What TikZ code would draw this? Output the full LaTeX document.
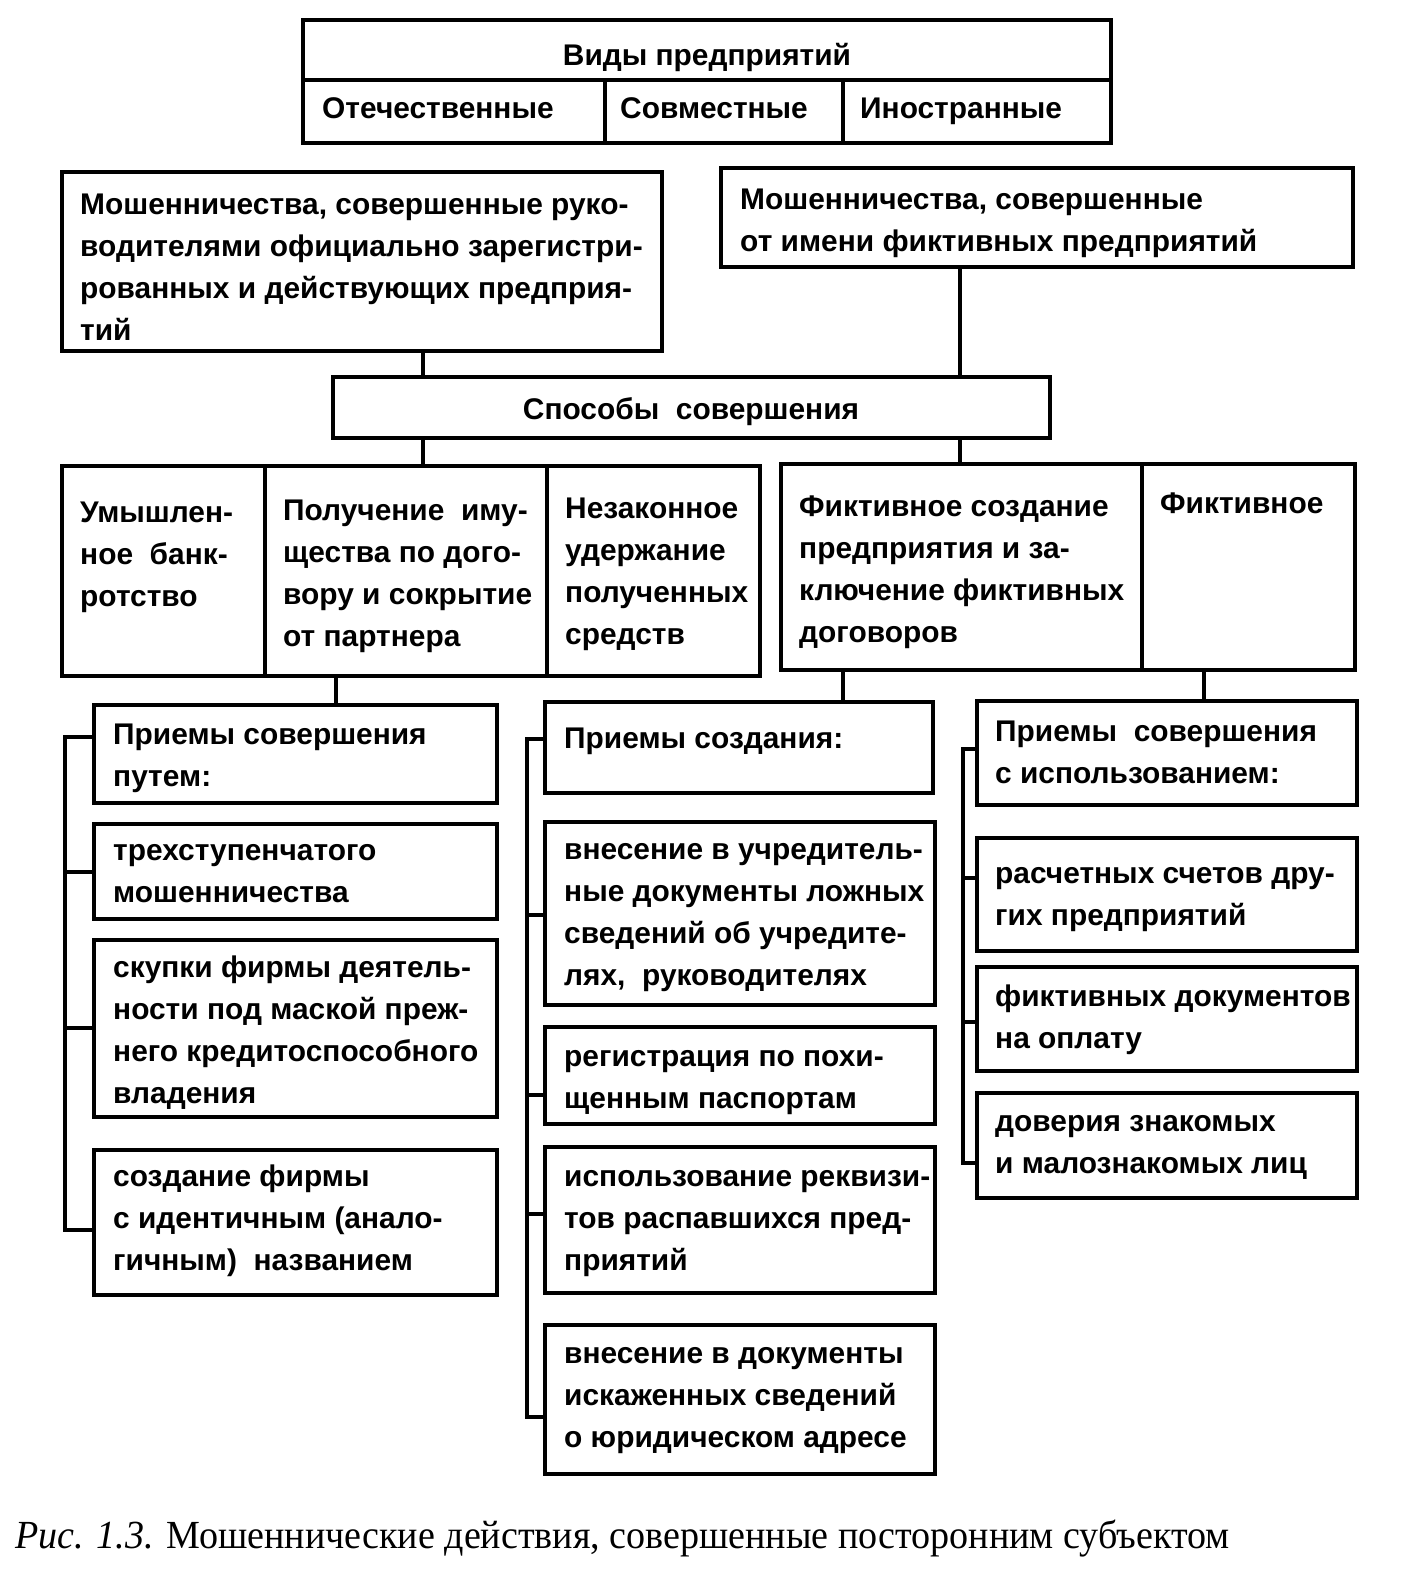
\documentclass[tikz,border=0pt]{standalone}
\usepackage{fontspec}
\setmainfont{Liberation Sans}
\newfontfamily\capfont{Liberation Serif}
\usetikzlibrary{fit}
\newcommand\mybox[5]{\path (#2,#3) coordinate (#1-nw) (#4,#5) coordinate (#1-se);
  \node[box, fit=(#1-nw)(#1-se)] (#1) {};}
\newcommand\mytext[4]{\node[txt] (#1-t) at (#2,#3) {\rule{0pt}{30bp}#4};}
\tikzset{
  box/.style={draw=black, line width=3.8bp, inner sep=0pt, rectangle},
  txt/.style={anchor=north west, inner sep=0pt, align=left,
    font=\bfseries\fontsize{30}{42.2}\selectfont},
  ctxt/.style={anchor=base, inner sep=0pt, font=\bfseries\fontsize{30}{42.2}\selectfont},
  conn/.style={draw=black, line width=3.8bp}
}
\begin{document}
\begin{tikzpicture}[x=1bp,y=-1bp]
\useasboundingbox (0,0) rectangle (1409,1578);
% top table
\mybox{T0}{303}{20}{1111}{80}
\mybox{T1}{303}{80}{605}{143}
\mybox{T2}{605}{80}{843}{143}
\mybox{T3}{843}{80}{1111}{143}
\node[ctxt] (T0-t) at (707,66) {Виды предприятий};
\mytext{T1}{322}{88}{Отечественные}
\mytext{T2}{620}{88}{Совместные}
\mytext{T3}{860}{88}{Иностранные}
% second row
\mybox{L1}{62}{172}{662}{351}
\mytext{L1}{80}{184}{Мошенничества, совершенные руко-\\водителями официально зарегистри-\\рованных и действующих предприя-\\тий}
\mybox{R1}{721}{168}{1353}{267}
\mytext{R1}{740}{179}{Мошенничества, совершенные\\от имени фиктивных предприятий}
% methods
\mybox{SP}{333}{377}{1050}{438}
\node[ctxt] (SP-t) at (691,419) {Способы\ \ совершения};
% groups
\mybox{G1a}{62}{466}{265}{676}
\mybox{G1b}{265}{466}{547}{676}
\mybox{G1c}{547}{466}{760}{676}
\mybox{G2a}{781}{464}{1142}{670}
\mybox{G2b}{1142}{464}{1355}{670}
\mytext{G1a}{80}{492}{Умышлен-\\ное\ \ банк-\\ротство}
\mytext{G1b}{283}{490}{Получение\ \ иму-\\щества по дого-\\вору и сокрытие\\от партнера}
\mytext{G1c}{565}{488}{Незаконное\\удержание\\полученных\\средств}
\mytext{G2a}{799}{486}{Фиктивное создание\\предприятия и за-\\ключение фиктивных\\договоров}
\mytext{G2b}{1160}{483}{Фиктивное}
% left column
\mybox{A0}{94}{705}{497}{803}
\mybox{A1}{94}{824}{497}{919}
\mybox{A2}{94}{940}{497}{1117}
\mybox{A3}{94}{1150}{497}{1295}
\mytext{A0}{113}{714}{Приемы совершения\\путем:}
\mytext{A1}{113}{830}{трехступенчатого\\мошенничества}
\mytext{A2}{113}{947}{скупки фирмы деятель-\\ности под маской преж-\\него кредитоспособного\\владения}
\mytext{A3}{113}{1156}{создание фирмы\\с идентичным (анало-\\гичным)\ \ названием}
% middle column
\mybox{B0}{545}{702}{933}{793}
\mybox{B1}{545}{822}{935}{1005}
\mybox{B2}{545}{1027}{935}{1124}
\mybox{B3}{545}{1147}{935}{1293}
\mybox{B4}{545}{1325}{935}{1474}
\mytext{B0}{564}{718}{Приемы создания:}
\mytext{B1}{564}{829}{внесение в учредитель-\\ные документы ложных\\сведений об учредите-\\лях,\ \ руководителях}
\mytext{B2}{564}{1036}{регистрация по похи-\\щенным паспортам}
\mytext{B3}{564}{1156}{использование реквизи-\\тов распавшихся пред-\\приятий}
\mytext{B4}{564}{1333}{внесение в документы\\искаженных сведений\\о юридическом адресе}
% right column
\mybox{C0}{977}{701}{1357}{805}
\mybox{C1}{977}{838}{1357}{951}
\mybox{C2}{977}{967}{1357}{1071}
\mybox{C3}{977}{1093}{1357}{1198}
\mytext{C0}{995}{711}{Приемы\ \ совершения\\с использованием:}
\mytext{C1}{995}{853}{расчетных счетов дру-\\гих предприятий}
\mytext{C2}{995}{976}{фиктивных документов\\на оплату}
\mytext{C3}{995}{1101}{доверия знакомых\\и малознакомых лиц}
% vertical connectors
\coordinate (x1) at (423,0);
\coordinate (x2) at (960,0);
\coordinate (x3) at (336,0);
\coordinate (x4) at (843,0);
\coordinate (x5) at (1204,0);
\draw[conn] (L1.south -| x1) -- (SP.north -| x1);
\draw[conn] (R1.south -| x2) -- (SP.north -| x2);
\draw[conn] (SP.south -| x1) -- (G1b.north -| x1);
\draw[conn] (SP.south -| x2) -- (G2a.north -| x2);
\draw[conn] (G1b.south -| x3) -- (A0.north -| x3);
\draw[conn] (G2a.south -| x4) -- (B0.north -| x4);
\draw[conn] (G2b.south -| x5) -- (C0.north -| x5);
% brackets
\coordinate (ta0) at (65,737);
\coordinate (ta1) at (65,872);
\coordinate (ta2) at (65,1028);
\coordinate (ta3) at (65,1230);
\draw[conn] (A0.west |- ta0) -- (ta0) -- (ta3) -- (A3.west |- ta3);
\draw[conn] (ta1) -- (A1.west |- ta1);
\draw[conn] (ta2) -- (A2.west |- ta2);
\coordinate (tb0) at (527,739);
\coordinate (tb1) at (527,915);
\coordinate (tb2) at (527,1095);
\coordinate (tb3) at (527,1214);
\coordinate (tb4) at (527,1417);
\draw[conn] (B0.west |- tb0) -- (tb0) -- (tb4) -- (B4.west |- tb4);
\draw[conn] (tb1) -- (B1.west |- tb1);
\draw[conn] (tb2) -- (B2.west |- tb2);
\draw[conn] (tb3) -- (B3.west |- tb3);
\coordinate (tc0) at (963,749);
\coordinate (tc1) at (963,878);
\coordinate (tc2) at (963,1022);
\coordinate (tc3) at (963,1163);
\draw[conn] (C0.west |- tc0) -- (tc0) -- (tc3) -- (C3.west |- tc3);
\draw[conn] (tc1) -- (C1.west |- tc1);
\draw[conn] (tc2) -- (C2.west |- tc2);
% caption
\node[anchor=base west, inner sep=0pt, font=\capfont\fontsize{40}{40}\selectfont] (cap) at (15,1548) {\scalebox{0.955}[1]{\textit{Рис. 1.3.} Мошеннические действия, совершенные посторонним субъектом}};
\end{tikzpicture}
\end{document}
